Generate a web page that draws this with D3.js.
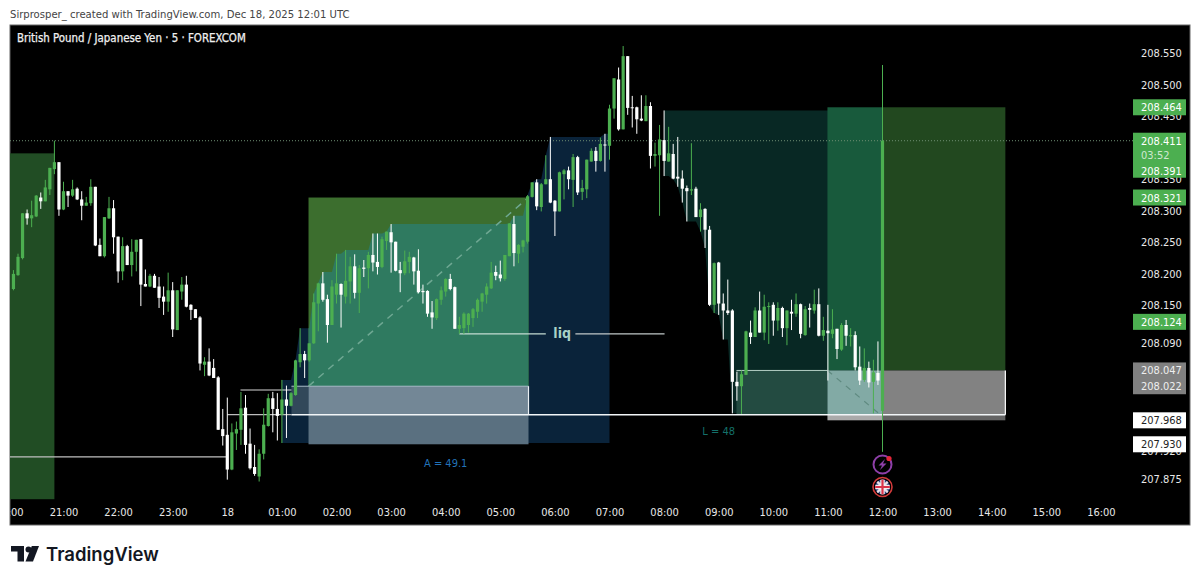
<!DOCTYPE html>
<html>
<head>
<meta charset="utf-8">
<script src="https://cdn.jsdelivr.net/npm/d3@7"></script>
<style>
  html, body { margin: 0; padding: 0; background: #fff; overflow: hidden; }
  text { font-family: "DejaVu Sans Condensed", "DejaVu Sans", sans-serif; font-stretch: condensed; }
</style>
</head>
<body>
<div id="chart"></div>
<script>
// GBPJPY 5m candles
const open = [208.176,208.198,208.225,208.296,208.288,208.291,208.321,208.315,208.334,208.366,
  208.377,208.302,208.331,208.324,208.335,208.318,208.308,208.312,208.338,208.246,
  208.228,208.288,208.304,208.259,208.204,208.244,208.214,208.235,208.255,208.184,
  208.180,208.197,208.180,208.164,208.156,208.174,208.111,208.172,208.183,208.151,
  208.144,208.131,208.056,208.061,208.051,208.036,207.954,207.945,207.890,207.947,
  207.953,207.988,207.931,207.894,207.879,207.915,207.959,208.003,207.986,207.977,
  208.001,207.991,208.008,208.060,208.073,208.063,208.090,208.153,208.185,208.160,
  208.119,208.167,208.184,208.164,208.188,208.212,208.170,208.210,208.209,208.230,
  208.219,208.211,208.252,208.266,208.251,208.206,208.201,208.219,208.226,208.205,
  208.173,208.173,208.139,208.130,208.159,208.172,208.192,208.179,208.113,208.114,
  208.119,208.130,208.140,208.156,208.167,208.177,208.203,208.199,208.192,208.228,
  208.279,208.232,208.243,208.251,208.322,208.345,208.306,208.342,208.350,208.316,
  208.299,208.358,208.364,208.349,208.385,208.330,208.334,208.378,208.395,208.379,
  208.405,208.403,208.462,208.508,208.429,208.545,208.464,208.464,208.446,208.442,
  208.466,208.387,208.388,208.412,208.378,208.390,208.354,208.351,208.336,208.332,
  208.335,208.290,208.303,208.270,208.151,208.218,208.153,208.142,208.142,208.029,
  208.022,208.040,208.107,208.100,208.142,208.107,208.148,208.151,208.126,208.146,
  208.114,208.140,208.137,208.152,208.103,208.146,208.142,208.152,208.102,208.110,
  208.105,208.113,208.080,208.119,208.101,208.103,208.053,208.032,208.051,208.029,
  208.043,207.983];
const close = [208.200,208.227,208.296,208.288,208.293,208.324,208.315,208.337,208.368,208.377,
  208.302,208.331,208.324,208.334,208.318,208.308,208.313,208.338,208.245,208.228,
  208.290,208.304,208.258,208.204,208.244,208.214,208.235,208.254,208.183,208.180,
  208.197,208.178,208.162,208.156,208.174,208.112,208.174,208.183,208.148,208.143,
  208.130,208.058,208.061,208.039,208.035,207.953,207.943,207.890,207.949,207.954,
  207.987,207.929,207.892,207.883,207.915,207.961,208.003,207.986,207.975,208.001,
  207.991,208.011,208.063,208.073,208.063,208.090,208.155,208.185,208.159,208.119,
  208.180,208.185,208.167,208.189,208.212,208.170,208.209,208.208,208.230,208.218,
  208.211,208.255,208.267,208.250,208.205,208.201,208.220,208.227,208.204,208.171,
  208.171,208.137,208.131,208.160,208.174,208.192,208.176,208.113,208.119,208.137,
  208.137,208.144,208.159,208.169,208.180,208.202,208.197,208.193,208.230,208.280,
  208.233,208.246,208.253,208.323,208.345,208.307,208.342,208.350,208.313,208.299,
  208.361,208.364,208.350,208.385,208.329,208.336,208.381,208.395,208.379,208.406,
  208.404,208.462,208.510,208.429,208.545,208.463,208.463,208.445,208.443,208.466,
  208.387,208.390,208.413,208.379,208.391,208.351,208.351,208.335,208.331,208.334,
  208.290,208.302,208.270,208.151,208.217,208.153,208.142,208.138,208.029,208.022,
  208.041,208.109,208.100,208.142,208.107,208.148,208.149,208.126,208.146,208.114,
  208.142,208.137,208.152,208.105,208.144,208.143,208.152,208.102,208.111,208.106,
  208.112,208.081,208.119,208.102,208.103,208.052,208.031,208.051,208.028,208.044,
  208.031,208.411];
const high = [208.206,208.232,208.296,208.302,208.316,208.325,208.329,208.349,208.368,208.411,
  208.377,208.346,208.331,208.349,208.337,208.331,208.322,208.350,208.338,208.256,
  208.290,208.322,208.317,208.259,208.258,208.246,208.255,208.254,208.255,208.207,
  208.200,208.200,208.195,208.180,208.202,208.187,208.174,208.195,208.197,208.152,
  208.144,208.133,208.068,208.082,208.065,208.038,207.986,208.004,207.963,207.966,
  208.013,208.008,207.955,207.929,207.922,207.987,208.010,208.013,208.011,208.032,
  208.023,208.013,208.064,208.114,208.078,208.090,208.169,208.186,208.203,208.167,
  208.190,208.232,208.185,208.238,208.227,208.231,208.214,208.222,208.235,208.264,
  208.264,208.259,208.267,208.279,208.251,208.219,208.237,208.235,208.227,208.239,
  208.183,208.174,208.157,208.161,208.180,208.193,208.200,208.180,208.132,208.139,
  208.138,208.146,208.161,208.170,208.185,208.219,208.213,208.221,208.230,208.280,
  208.292,208.247,208.254,208.325,208.345,208.350,208.344,208.388,208.417,208.317,
  208.362,208.366,208.370,208.390,208.387,208.349,208.381,208.399,208.401,208.416,
  208.422,208.468,208.510,208.527,208.561,208.545,208.482,208.465,208.483,208.483,
  208.472,208.408,208.436,208.459,208.433,208.406,208.417,208.364,208.340,208.407,
  208.338,208.312,208.304,208.276,208.218,208.219,208.169,208.191,208.144,208.045,
  208.047,208.110,208.126,208.147,208.172,208.167,208.155,208.155,208.155,208.148,
  208.142,208.159,208.169,208.153,208.149,208.153,208.175,208.177,208.132,208.151,
  208.144,208.113,208.122,208.127,208.114,208.109,208.085,208.082,208.061,208.064,
  208.093,208.531];
const low = [208.174,208.197,208.223,208.278,208.274,208.290,208.303,208.315,208.325,208.358,
  208.292,208.301,208.306,208.322,208.317,208.285,208.308,208.308,208.244,208.228,
  208.226,208.287,208.232,208.186,208.190,208.214,208.196,208.204,208.149,208.180,
  208.179,208.178,208.146,208.135,208.140,208.100,208.111,208.159,208.147,208.127,
  208.130,208.047,208.038,208.038,208.035,207.953,207.928,207.874,207.889,207.921,
  207.929,207.915,207.890,207.880,207.871,207.906,207.958,207.949,207.936,207.932,
  207.940,207.990,208.007,208.052,208.035,208.061,208.089,208.109,208.156,208.091,
  208.119,208.153,208.115,208.153,208.153,208.161,208.138,208.195,208.177,208.204,
  208.199,208.209,208.238,208.202,208.204,208.171,208.198,208.201,208.183,208.169,
  208.153,208.132,208.113,208.127,208.151,208.164,208.174,208.113,208.105,208.105,
  208.107,208.116,208.130,208.140,208.153,208.176,208.190,208.188,208.189,208.228,
  208.212,208.217,208.234,208.248,208.321,208.301,208.299,208.342,208.312,208.260,
  208.299,208.318,208.334,208.306,208.325,208.317,208.320,208.378,208.362,208.378,
  208.362,208.381,208.446,208.427,208.429,208.452,208.432,208.422,208.442,208.442,
  208.367,208.370,208.292,208.355,208.378,208.350,208.338,208.313,208.283,208.325,
  208.290,208.267,208.241,208.149,208.138,208.135,208.096,208.135,207.979,207.999,
  207.978,208.040,208.089,208.100,208.107,208.095,208.089,208.102,208.110,208.100,
  208.087,208.111,208.132,208.098,208.102,208.115,208.137,208.101,208.094,208.031,
  208.098,208.065,208.078,208.086,208.085,208.047,208.024,208.029,208.020,207.979,
  208.024,207.918];

// Akser
const priceTicks = [208.55, 208.5, 208.45, 208.35, 208.3, 208.25, 208.2, 208.15, 208.09, 207.92, 207.875];
const hourLabels = ["20:00","21:00","22:00","23:00","18","01:00","02:00","03:00","04:00","05:00","06:00","07:00",
  "08:00","09:00","10:00","11:00","12:00","13:00","14:00","15:00","16:00"];
const greenBadges = [208.464, 208.321, 208.124];
const greyBadges = [208.047, 208.022];
const whiteBadges = [207.968, 207.930];
const lastPrice = 208.411;
const stackedPrice = 208.391;

const green = "#4caf50";
const W = 1200, H = 582;

const svg = d3.select("#chart").append("svg").attr("width", W).attr("height", H).style("display", "block");

// Tidsakse: en bar er 5 minutter
const firstBar = Date.UTC(2025, 11, 17, 20, 5);
const barTime = (i) => new Date(firstBar + i * 5 * 60000);
const x = d3.scaleUtc()
  .domain([Date.UTC(2025, 11, 17, 21, 0), Date.UTC(2025, 11, 18, 12, 0)])
  .range([63.5, 882.5]);
const bx = (i) => x(barTime(i));
const y = d3.scaleLinear().domain([208.55, 207.875]).range([53, 479]);

// Overskrift
svg.append("text").attr("x", 10).attr("y", 18).attr("fill", "#444").style("font-size", "11.2px")
  .text("Sirprosper_ created with TradingView.com, Dec 18, 2025 12:01 UTC");

// Sort chart-flade
svg.append("rect").attr("x", 10).attr("y", 25).attr("width", 1180).attr("height", 500)
  .attr("fill", "#000").attr("stroke", "#666").attr("stroke-width", 1);

svg.append("defs").append("clipPath").attr("id", "frame").append("rect")
  .attr("x", 10).attr("y", 25).attr("width", 1180).attr("height", 500);

const plot = svg.append("g").attr("clip-path", "url(#frame)");

function box(i0, i1, p0, p1, fill, parent) {
  return (parent || plot).append("rect")
    .attr("x", bx(i0)).attr("width", bx(i1) - bx(i0))
    .attr("y", y(p0)).attr("height", y(p1) - y(p0))
    .attr("fill", fill);
}
function hline(i0, i1, p, stroke, w) {
  return plot.append("line").attr("x1", bx(i0)).attr("x2", bx(i1))
    .attr("y1", y(p)).attr("y2", y(p)).attr("stroke", stroke).attr("stroke-width", w || 1);
}

// Venstre groen boks
box(-2, 9, 208.391, 207.843, "#214d24");

// Blaat omraade: bund ved foerste low, top foelger hoejeste high
const blueStart = 59, blueEnd = 130;
const blueData = d3.range(blueStart, blueEnd + 2).map((i) => ({
  i: i,
  top: d3.max(high.slice(blueStart, Math.min(i, blueEnd) + 1))
}));
const blueArea = d3.area().x((d) => bx(d.i)).y0(y(low[blueStart])).y1((d) => y(d.top));
plot.append("path").attr("d", blueArea(blueData)).attr("fill", "#0a233a");

// Moerkt teal omraade: top ved foerste high, bund foelger laveste low
const tealStart = 143, tealEnd = 190;
const tealData = d3.range(tealStart, tealEnd + 1).map((i) => ({
  i: i,
  bottom: d3.min(low.slice(tealStart, i + 1))
}));
const tealArea = d3.area().x((d) => bx(d.i)).y0((d) => y(d.bottom)).y1(y(high[tealStart]));
plot.append("path").attr("d", tealArea(tealData)).attr("fill", "#082824");

// Long position fra 01:35
const aL = 64.85, aR = 113.2;
box(aL, aR, 208.321, 208.022, "#3c6e2e");
svg.select("defs").append("clipPath").attr("id", "boxA").append("rect")
  .attr("x", bx(aL)).attr("width", bx(aR) - bx(aL))
  .attr("y", y(208.321)).attr("height", y(208.022) - y(208.321));
plot.append("path").attr("d", blueArea(blueData)).attr("fill", "#2f7a60").attr("clip-path", "url(#boxA)");
box(61.1, aL, 208.022, 207.977, "#32485a");
box(aL, aR, 208.022, 207.977, "#738796");
box(aL, aR, 207.977, 207.93, "#5a7080");
hline(61.1, aR, 208.022, "#a9bcc8", 1);
plot.append("line").attr("x1", bx(aR)).attr("x2", bx(aR)).attr("y1", y(208.022)).attr("y2", y(207.977))
  .attr("stroke", "#e8eef2").attr("stroke-width", 1.2);
plot.append("line").attr("x1", bx(aL)).attr("y1", y(208.022)).attr("x2", bx(aR)).attr("y2", y(208.321))
  .attr("stroke", "#6fa893").attr("stroke-width", 1.5).attr("stroke-dasharray", "7 6");

// Long position fra 11:00
const bL = 178.9, bM = 191, bR = 218;
box(158.9, bL, 208.047, 207.977, "#234b41");
box(bL, bM, 208.464, 208.047, "#185a3c");
box(bM, bR, 208.464, 208.047, "#22481f");
box(bL, bM, 208.047, 207.977, "#82aaa5");
box(bM, bR, 208.047, 207.977, "#828282");
box(bL, bM, 207.977, 207.968, "#aaaaaa");
box(bM, bR, 207.977, 207.968, "#646464");
hline(158.9, bL, 208.047, "#b5d0c5", 1);
plot.append("line").attr("x1", bx(bR)).attr("x2", bx(bR)).attr("y1", y(208.047)).attr("y2", y(207.977))
  .attr("stroke", "#fff").attr("stroke-width", 1.2);
plot.append("line").attr("x1", bx(bL)).attr("y1", y(208.047)).attr("x2", bx(190.5)).attr("y2", y(207.977))
  .attr("stroke", "#5f8a80").attr("stroke-width", 1.2).attr("stroke-dasharray", "6 6");

// Vandrette linjer
hline(-2, 47, 207.91, "#c0c0c0", 1.2);
hline(47, 61.1, 207.977, "#bdbdbd", 1.2);
hline(61.1, bR, 207.977, "#f2f6f8", 1.5);
hline(49.9, 61.1, 208.016, "#d8d8d8", 1);
hline(98, 117, 208.105, "#c4dcd2", 1.2);
hline(123.5, 143.1, 208.105, "#c0c8c8", 1.2);

// Nuvaerende pris, prikket
plot.append("line").attr("x1", 10).attr("x2", 1133).attr("y1", y(lastPrice)).attr("y2", y(lastPrice))
  .attr("stroke", "#6f8f72").attr("stroke-width", 1).attr("stroke-dasharray", "1 2");

// Candles
const bars = d3.range(open.length);
const color = (i) => (close[i] >= open[i] ? green : "#fff");
plot.selectAll("line.wick").data(bars).enter().append("line")
  .attr("class", "wick")
  .attr("x1", (i) => bx(i)).attr("x2", (i) => bx(i))
  .attr("y1", (i) => y(high[i])).attr("y2", (i) => y(low[i]))
  .attr("stroke", color).attr("stroke-width", 1);
plot.selectAll("rect.body").data(bars).enter().append("rect")
  .attr("class", "body")
  .attr("x", (i) => bx(i) - 1.6).attr("width", 3.2)
  .attr("y", (i) => y(Math.max(open[i], close[i])))
  .attr("height", (i) => Math.max(1, Math.abs(y(open[i]) - y(close[i]))))
  .attr("fill", color);

// Tekster i chartet
plot.append("text").attr("x", bx(120.6)).attr("y", y(208.105) + 4.5).attr("text-anchor", "middle")
  .attr("fill", "#a9d2c6").style("font-size", "14px").style("font-weight", "bold").text("liq");
plot.append("text").attr("x", bx(95)).attr("y", y(207.91) + 10).attr("text-anchor", "middle")
  .attr("fill", "#2272b8").style("font-size", "11px").text("A = 49.1");
plot.append("text").attr("x", bx(155)).attr("y", y(207.955) + 6).attr("text-anchor", "middle")
  .attr("fill", "#14706a").style("font-size", "11px").text("L = 48");

// Titel
plot.append("text").attr("x", 17).attr("y", 42).attr("fill", "#f0f0f0")
  .attr("stroke", "#f0f0f0").attr("stroke-width", 0.25)
  .style("font-size", "11.4px")
  .text("British Pound / Japanese Yen \u00b7 5 \u00b7 FOREXCOM");

// Tidsakse
const hourTicks = hourLabels.map((d, k) => new Date(Date.UTC(2025, 11, 17, 20 + k, 0)));
const xAxis = plot.append("g").attr("transform", "translate(0,508)")
  .call(d3.axisBottom(x).tickValues(hourTicks).tickSize(0).tickPadding(0)
    .tickFormat((d, k) => hourLabels[k]));
xAxis.select(".domain").remove();
xAxis.selectAll("text").attr("fill", "#e8e8e8").style("font-size", "11px");

// Prisakse
const yAxis = plot.append("g").attr("transform", "translate(1133,0)")
  .call(d3.axisRight(y).tickValues(priceTicks).tickSize(0).tickPadding(8).tickFormat(d3.format(".3f")));
yAxis.select(".domain").remove();
yAxis.selectAll("text").attr("fill", "#e8e8e8").style("font-size", "11px");

// Pris-badges
function badge(top, bottom, fill) {
  plot.append("rect").attr("x", 1133).attr("width", 53).attr("y", top).attr("height", bottom - top).attr("fill", fill);
}
function badgeText(py, label, fill) {
  plot.append("text").attr("x", 1141).attr("y", py + 4).attr("fill", fill).style("font-size", "11px").text(label);
}
const fmt = d3.format(".3f");
greenBadges.forEach((p) => {
  badge(y(p) - 8, y(p) + 8, green);
  badgeText(y(p), fmt(p), "#fff");
});
badge(y(lastPrice) - 8, y(lastPrice) + 37, green);
badgeText(y(lastPrice), fmt(lastPrice), "#fff");
badgeText(y(lastPrice) + 14, "03:52", "#cfe8d0");
badgeText(y(lastPrice) + 30, fmt(stackedPrice), "#fff");
badge(y(greyBadges[0]) - 8, y(greyBadges[1]) + 8, "#808080");
greyBadges.forEach((p) => badgeText(y(p), fmt(p), "#eee"));
whiteBadges.forEach((p) => {
  badge(y(p) - 8, y(p) + 8, "#fff");
  badgeText(y(p), fmt(p), "#222");
});

// Ikoner under sidste bar
const ix = bx(191);
const bolt = plot.append("g").attr("transform", "translate(" + ix + "," + 464.5 + ")");
bolt.append("circle").attr("r", 9).attr("fill", "none").attr("stroke", "#8e3fa8").attr("stroke-width", 2);
bolt.append("path").attr("d", "M2.5,-5.5 L-4,1 L-0.5,1 L-2.5,5.5 L4,-1 L0.5,-1 Z").attr("fill", "#8e3fa8");
bolt.append("circle").attr("cx", 6.5).attr("cy", -6).attr("r", 2.6).attr("fill", "#e5263a");

const flag = plot.append("g").attr("transform", "translate(" + ix + "," + 487 + ")");
svg.select("defs").append("clipPath").attr("id", "ukClip").append("circle").attr("r", 7.5);
const fg = flag.append("g").attr("clip-path", "url(#ukClip)");
fg.append("rect").attr("x", -9).attr("y", -9).attr("width", 18).attr("height", 18).attr("fill", "#2a3f80");
[[-9, -9, 9, 9], [-9, 9, 9, -9]].forEach((l) => {
  fg.append("line").attr("x1", l[0]).attr("y1", l[1]).attr("x2", l[2]).attr("y2", l[3]).attr("stroke", "#e9dfe4").attr("stroke-width", 2.5);
});
fg.append("line").attr("x1", -9).attr("x2", 9).attr("stroke", "#f4eef0").attr("stroke-width", 4.5);
fg.append("line").attr("y1", -9).attr("y2", 9).attr("stroke", "#f4eef0").attr("stroke-width", 4.5);
fg.append("line").attr("x1", -9).attr("x2", 9).attr("stroke", "#d9334a").attr("stroke-width", 2.2);
fg.append("line").attr("y1", -9).attr("y2", 9).attr("stroke", "#d9334a").attr("stroke-width", 2.2);
flag.append("circle").attr("r", 9.5).attr("fill", "none").attr("stroke", "#d23a3a").attr("stroke-width", 1.6);

// TradingView logo
const logo = svg.append("g").attr("fill", "#131722");
logo.append("path").attr("d", "M11,546 H24 V561.5 H17.5 V551.5 H11 Z");
logo.append("circle").attr("cx", 28.5).attr("cy", 549.5).attr("r", 3);
logo.append("path").attr("d", "M39,546 H31.8 L25.5,561.5 H33 Z");
svg.append("text").attr("x", 46).attr("y", 560.5)
  .attr("fill", "#131722")
  .style("font-family", "Inter, sans-serif").style("font-stretch", "normal").style("font-size", "18.5px").style("font-weight", "600")
  .text("TradingView");
</script>
</body>
</html>
